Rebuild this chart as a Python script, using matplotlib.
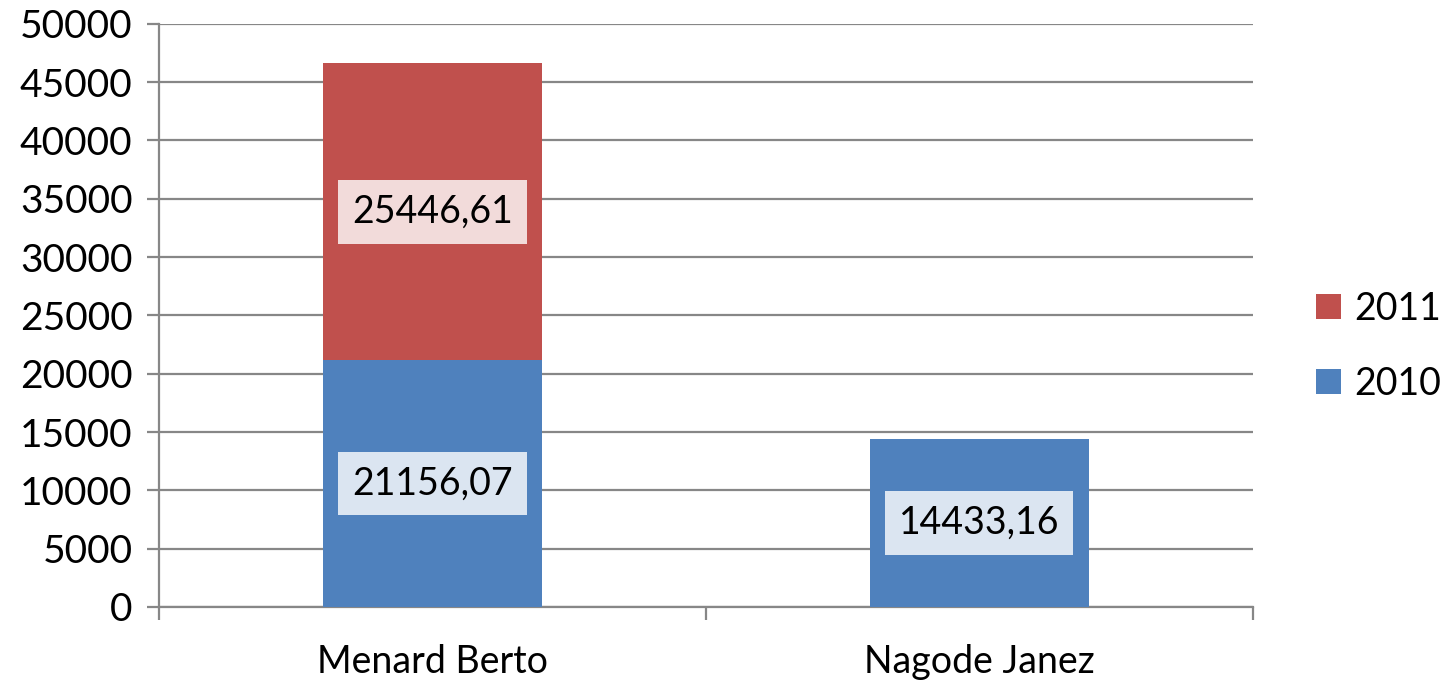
import matplotlib
matplotlib.use('Agg')
import matplotlib.pyplot as plt
import numpy as np

# data
names = ['Menard Berto', 'Nagode Janez']
v2010 = [21156.07, 14433.16]
v2011 = [25446.61, 0]
lbl2010 = ['21156,07', '14433,16']
lbl2011 = ['25446,61', None]
yticks = [0, 5000, 10000, 15000, 20000, 25000, 30000, 35000, 40000, 45000, 50000]

BLUE = '#4f81bd'
RED = '#c0504d'
GRID = '#878787'
FS = 27

plt.rcParams['font.family'] = ['Lato', 'DejaVu Sans']

fig = plt.figure(figsize=(14.45, 6.82), dpi=100)
ax = fig.add_axes([0.110, 0.110, 0.757, 0.855])

x = np.arange(len(names))
w = 0.4
b1 = ax.bar(x, v2010, w, color=BLUE, label='2010', zorder=3)
b2 = ax.bar(x, v2011, w, bottom=v2010, color=RED, label='2011', zorder=3)

# data labels in white boxes
for i in range(len(names)):
    ax.text(x[i], v2010[i] / 2, lbl2010[i], ha='center', va='center', fontsize=FS, zorder=5,
            bbox=dict(facecolor='white', alpha=0.8, edgecolor='none', pad=10))
    if lbl2011[i]:
        ax.text(x[i], v2010[i] + v2011[i] / 2, lbl2011[i], ha='center', va='center', fontsize=FS, zorder=5,
                bbox=dict(facecolor='white', alpha=0.8, edgecolor='none', pad=10))

ax.set_xlim(-0.5, 1.5)
ax.set_ylim(0, 50000)
ax.set_yticks(yticks)
ax.set_yticklabels([str(t) for t in yticks], fontsize=28)
ax.yaxis.grid(True, color=GRID, linewidth=1.6, zorder=0)
ax.set_axisbelow(True)

# category labels centred, ticks between categories
ax.set_xticks([-0.5, 0.5, 1.5])
ax.set_xticklabels([])
ax.set_xticks(x, minor=True)
ax.set_xticklabels(names, minor=True, fontsize=FS)
ax.tick_params(axis='x', which='minor', length=0, pad=27)
ax.tick_params(axis='x', which='major', length=9, width=1.6, color=GRID)
ax.tick_params(axis='y', length=9, width=1.6, color=GRID, pad=10)

for s in ['top', 'right']:
    ax.spines[s].set_visible(False)
for s in ['left', 'bottom']:
    ax.spines[s].set_color(GRID)
    ax.spines[s].set_linewidth(1.6)

h, l = ax.get_legend_handles_labels()
fig.legend(h[::-1], l[::-1], loc='center left', bbox_to_anchor=(0.911, 0.492), frameon=False,
           fontsize=FS, handlelength=0.65, handleheight=0.65, handletextpad=0.35,
           labelspacing=1.05, borderpad=0, borderaxespad=0)

fig.savefig('out.png', dpi=100)
